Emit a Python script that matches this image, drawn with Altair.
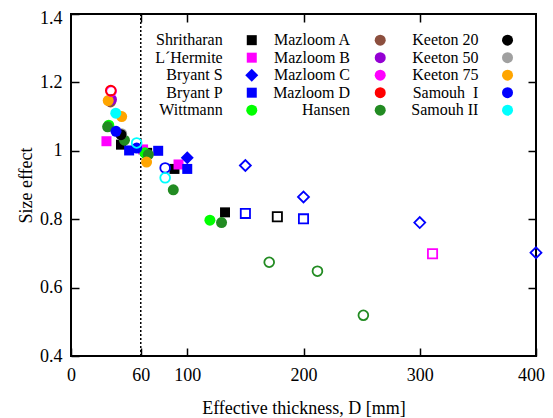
import altair as alt
import pandas as pd

# ---------------- data ----------------
names = ["Shritharan", "L\u00b4Hermite", "Bryant S", "Bryant P", "Wittmann",
         "Mazloom A", "Mazloom B", "Mazloom C", "Mazloom D", "Hansen",
         "Keeton 20", "Keeton 50", "Keeton 75", "Samouh\u00a0 I", "Samouh II"]
colors = ["#000000", "#ff00ff", "#0000ff", "#0000ff", "#00ff00",
          "#8c4f3e", "#9400d3", "#ff00ff", "#ff0000", "#228b22",
          "#000000", "#a0a0a0", "#ffa500", "#0000ff", "#00ffff"]
shapes = ["square", "square", "diamond", "square", "circle",
          "circle", "circle", "circle", "circle", "circle",
          "circle", "circle", "circle", "circle", "circle"]

shritharan_D = [43, 65.5, 89, 132.5, 177.5]
shritharan_S = [1.018, 0.994, 0.947, 0.820, 0.807]
shritharan_open = [0, 0, 0, 0, 1]

lhermite_D = [30.5, 62, 92.5, 311]
lhermite_S = [1.028, 1.004, 0.960, 0.699]
lhermite_open = [0, 0, 0, 1]

bryantS_D = [100, 150, 200, 300, 400]
bryantS_S = [0.980, 0.957, 0.865, 0.790, 0.702]
bryantS_open = [0, 1, 1, 1, 1]

bryantP_D = [50, 75, 100, 150, 200]
bryantP_S = [1.001, 1.000, 0.947, 0.817, 0.801]
bryantP_open = [0, 0, 0, 1, 1]

wittmann_D = [32.5, 63.5, 119.5]
wittmann_S = [1.075, 0.994, 0.797]
wittmann_open = [0, 0, 0]

mazloomA_D = [34]
mazloomA_S = [1.143]
mazloomA_open = [0]

mazloomB_D = [34.8]
mazloomB_S = [1.150]
mazloomB_open = [0]

mazloomC_D = [34.6]
mazloomC_S = [1.174]
mazloomC_open = [1]

mazloomD_D = [34.2]
mazloomD_S = [1.176]
mazloomD_open = [1]

hansen_D = [31.5, 46, 66.5, 88, 129.5, 170.5, 212, 251.5]
hansen_S = [1.070, 1.031, 0.989, 0.886, 0.790, 0.674, 0.648, 0.519]
hansen_open = [0, 0, 0, 0, 0, 1, 1, 1]

keeton20_D = [43]
keeton20_S = [1.047]
keeton20_open = [0]

keeton50_D = [43.6]
keeton50_S = [1.050]
keeton50_open = [0]

keeton75_D = [32, 43.6, 65]
keeton75_S = [1.147, 1.100, 0.967]
keeton75_open = [0, 0, 0]

samouh1_D = [38.7, 56.5, 81]
samouh1_S = [1.057, 1.008, 0.950]
samouh1_open = [0, 0, 1]

samouh2_D = [38.5, 56.5, 81]
samouh2_S = [1.110, 1.023, 0.921]
samouh2_open = [0, 1, 1]

series = {
    names[0]: (shritharan_D, shritharan_S, shritharan_open),
    names[1]: (lhermite_D, lhermite_S, lhermite_open),
    names[2]: (bryantS_D, bryantS_S, bryantS_open),
    names[3]: (bryantP_D, bryantP_S, bryantP_open),
    names[4]: (wittmann_D, wittmann_S, wittmann_open),
    names[5]: (mazloomA_D, mazloomA_S, mazloomA_open),
    names[6]: (mazloomB_D, mazloomB_S, mazloomB_open),
    names[7]: (mazloomC_D, mazloomC_S, mazloomC_open),
    names[8]: (mazloomD_D, mazloomD_S, mazloomD_open),
    names[9]: (hansen_D, hansen_S, hansen_open),
    names[11]: (keeton50_D, keeton50_S, keeton50_open),
    names[10]: (keeton20_D, keeton20_S, keeton20_open),
    names[12]: (keeton75_D, keeton75_S, keeton75_open),
    names[13]: (samouh1_D, samouh1_S, samouh1_open),
    names[14]: (samouh2_D, samouh2_S, samouh2_open),
}

x_ticks = [0, 60, 100, 200, 300, 400]
y_ticks = [0.4, 0.6, 0.8, 1.0, 1.2, 1.4]
divider_D = [60]

# ---------------- styling maps ----------------
size_filled = {"square": 100, "diamond": 169, "circle": 121}
size_open = {"square": 85, "diamond": 120, "circle": 95}
shape_of = dict(zip(names, shapes))

# ---------------- tables ----------------
rows = []
for name, (ds, ss, op) in series.items():
    for d, s, o in zip(ds, ss, op):
        sz = (size_open if o else size_filled)[shape_of[name]]
        rows.append({"source": name, "D": d, "S": s, "open": o, "sz": sz})
df = pd.DataFrame(rows)
df_filled = df[df["open"] == 0]
df_open = df[df["open"] == 1]

# legend layout (3 columns x 5 rows, label to the left of its symbol)
leg_label_x = [130.5, 240.0, 350.5]
leg_symbol_x = [155.5, 266.0, 375.5]
leg_top = 1.3235
leg_step = 0.0512
leg_rows = []
for i, n in enumerate(names):
    c, r = divmod(i, 5)
    leg_rows.append({"source": n, "lx": leg_label_x[c], "sx": leg_symbol_x[c],
                     "ly": leg_top - r * leg_step,
                     "sz": size_filled[shape_of[n]]})
legdf = pd.DataFrame(leg_rows)

xs = alt.Scale(domain=[0, 400], nice=False, zero=False)
ys = alt.Scale(domain=[0.4, 1.4], nice=False, zero=False)
cs = alt.Scale(domain=names, range=colors)
shs = alt.Scale(domain=names, range=shapes)

FONT = "Liberation Serif"
FS = 18

ax_bottom = alt.Axis(orient="bottom", values=x_ticks, offset=-8, tickSize=8,
                     labelPadding=10, domain=False, grid=False,
                     title="Effective thickness, D [mm]", titlePadding=15,
                     labelFlush=False, labelOverlap=False, format="d",
                     labelFont=FONT, titleFont=FONT, labelFontSize=FS,
                     titleFontSize=FS, labelColor="black", titleColor="black",
                     titleFontWeight="normal", tickColor="black", tickWidth=1.5,
                     labelOffset={"condition": {"test": "datum.value > 399", "value": -5},
                                  "value": 0})
ax_left = alt.Axis(orient="left", values=y_ticks, offset=-8, tickSize=8,
                   labelPadding=9, domain=False, grid=False,
                   title="Size effect", titlePadding=4,
                   labelFlush=False, labelOverlap=False, format="~g",
                   labelFont=FONT, titleFont=FONT, labelFontSize=FS,
                   titleFontSize=FS, labelColor="black", titleColor="black",
                   titleFontWeight="normal", tickColor="black", tickWidth=1.5,
                   labelOffset={"condition": {"test": "datum.value > 1.39", "value": 4},
                                "value": 0})
ax_top = alt.Axis(orient="top", values=x_ticks[1:-1], offset=-8, tickSize=8,
                  labels=False, domain=False, grid=False, title=None,
                  tickColor="black", tickWidth=1.5)
ax_right = alt.Axis(orient="right", values=y_ticks[1:-1], offset=-8, tickSize=8,
                    labels=False, domain=False, grid=False, title=None,
                    tickColor="black", tickWidth=1.5)

rule = alt.Chart(pd.DataFrame({"D": divider_D})).mark_rule(
    color="black", strokeWidth=1.5, strokeDash=[2, 2]
).encode(x=alt.X("D:Q", scale=xs, axis=ax_top))

filled = alt.Chart(df_filled).mark_point(filled=True, opacity=1).encode(
    x=alt.X("D:Q", scale=xs, axis=ax_bottom),
    y=alt.Y("S:Q", scale=ys, axis=ax_left),
    color=alt.Color("source:N", scale=cs, legend=None),
    shape=alt.Shape("source:N", scale=shs, legend=None),
    size=alt.Size("sz:Q", scale=None),
)

opened = alt.Chart(df_open).mark_point(filled=False, opacity=1, strokeWidth=1.8).encode(
    x=alt.X("D:Q", scale=xs, axis=None),
    y=alt.Y("S:Q", scale=ys, axis=None),
    color=alt.Color("source:N", scale=cs, legend=None),
    shape=alt.Shape("source:N", scale=shs, legend=None),
    size=alt.Size("sz:Q", scale=None),
)

leg_pts = alt.Chart(legdf).mark_point(filled=True, opacity=1).encode(
    x=alt.X("sx:Q", scale=xs, axis=None),
    y=alt.Y("ly:Q", scale=ys, axis=ax_right),
    color=alt.Color("source:N", scale=cs, legend=None),
    shape=alt.Shape("source:N", scale=shs, legend=None),
    size=alt.Size("sz:Q", scale=None),
)

leg_txt = alt.Chart(legdf).mark_text(
    align="right", baseline="middle", font=FONT, fontSize=16, color="black"
).encode(
    x=alt.X("lx:Q", scale=xs, axis=None),
    y=alt.Y("ly:Q", scale=ys, axis=None),
    text="source:N",
)

chart = alt.layer(rule, filled, opened, leg_pts, leg_txt).resolve_axis(
    x="independent", y="independent"
).properties(
    width=465, height=342,
    padding={"left": 63, "top": 6, "right": 9, "bottom": 62},
    autosize=alt.AutoSizeParams(type="none"),
).configure_view(
    stroke="black", strokeWidth=2
).configure_axis(
    labelFont=FONT, titleFont=FONT, labelFontSize=FS, titleFontSize=FS,
    labelColor="black", titleColor="black", titleFontWeight="normal",
    tickColor="black", tickWidth=1.5
)

chart.save("out.html", embed_options={"renderer": "svg", "actions": False})
